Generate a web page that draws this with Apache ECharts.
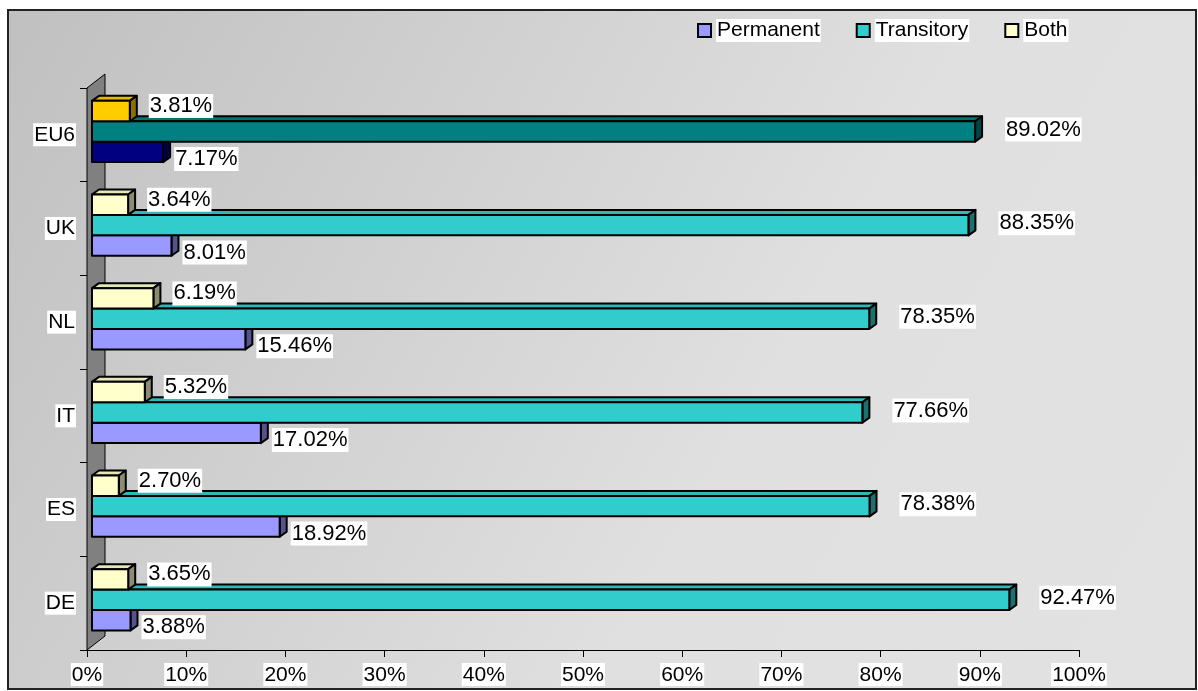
<!DOCTYPE html>
<html>
<head>
<meta charset="utf-8">
<script src="https://cdn.jsdelivr.net/npm/echarts@6/dist/echarts.min.js"></script>
<style>
  html, body { margin: 0; padding: 0; background: #fff; }
  #main { width: 1198px; height: 691px; }
</style>
</head>
<body>
<div id="main"></div>
<script>
// data
var categories = ['DE', 'ES', 'IT', 'NL', 'UK', 'EU6'];
var permanent = [3.88, 18.92, 17.02, 15.46, 8.01, 7.17];
var transitory = [92.47, 78.38, 77.66, 78.35, 88.35, 89.02];
var both = [3.65, 2.70, 5.32, 6.19, 3.64, 3.81];

var FAMILY = '"Liberation Sans", Arial, sans-serif';
var FONT = '22px ' + FAMILY;
var chart = echarts.init(document.getElementById('main'));

function shade(hex, f) {
  var n = parseInt(hex.slice(1), 16);
  var r = Math.round(((n >> 16) & 255) * f);
  var g = Math.round(((n >> 8) & 255) * f);
  var b = Math.round((n & 255) * f);
  return 'rgb(' + r + ',' + g + ',' + b + ')';
}

// 3d-ish bar: slot 0 = top of the group, 2 = bottom
function barRender(slot, color, hiColor, lab) {
  return function (params, api) {
    var v = api.value(0), ci = api.value(1);
    var p0 = api.coord([0, ci]);
    var p1 = api.coord([v, ci]);
    var band = api.size([0, 1])[1];
    var h = band * 0.218, dx = 7, dy = -5;
    var top = p0[1] - band * 0.363 + slot * h;
    var x0 = p0[0] + 5, x1 = p1[0] + 5;
    var c = ci === categories.length - 1 ? hiColor : color;
    var ln = { stroke: '#000', lineWidth: 2, lineJoin: 'round' };
    return {
      type: 'group',
      children: [
        { type: 'polygon', shape: { points: [[x0, top], [x0 + dx, top + dy], [x1 + dx, top + dy], [x1, top]] },
          style: Object.assign({ fill: shade(c, 0.9) }, ln) },
        { type: 'polygon', shape: { points: [[x1, top], [x1 + dx, top + dy], [x1 + dx, top + dy + h], [x1, top + h]] },
          style: Object.assign({ fill: shade(c, 0.55) }, ln) },
        { type: 'rect', shape: { x: x0, y: top, width: x1 - x0, height: h },
          style: Object.assign({ fill: c }, ln) },
        { type: 'text', x: x1 + lab[0], y: top + h / 2 + lab[1],
          style: { text: v.toFixed(2) + '%', fill: '#000', font: FONT, backgroundColor: '#fff',
                   padding: [2, 1, 0, 1], align: 'left', verticalAlign: 'middle' } }
      ]
    };
  };
}

function pairs(arr) {
  return arr.map(function (v, i) { return [v, i]; });
}

var option = {
  animation: false,
  backgroundColor: '#fff',
  graphic: [{
    type: 'rect', z: -10, silent: true,
    shape: { x: 8, y: 10, width: 1188, height: 679 },
    style: {
      fill: new echarts.graphic.LinearGradient(0, 0, 1, 1, [
        { offset: 0, color: '#c0c0c0' },
        { offset: 0.62, color: '#e0e0e0' },
        { offset: 1, color: '#e2e2e2' }
      ]),
      stroke: '#222', lineWidth: 2
    }
  }],
  legend: {
    left: 692, top: 14,
    itemGap: 35, itemWidth: 13, itemHeight: 13,
    icon: 'rect',
    textStyle: { fontSize: 21, fontFamily: FAMILY, color: '#000',
                 backgroundColor: '#fff', padding: [2, 1, 0, 1] },
    data: [
      { name: 'Permanent', itemStyle: { color: '#9999ff', borderColor: '#000', borderWidth: 2 } },
      { name: 'Transitory', itemStyle: { color: '#33cccc', borderColor: '#000', borderWidth: 2 } },
      { name: 'Both', itemStyle: { color: '#ffffcc', borderColor: '#000', borderWidth: 2 } }
    ]
  },
  grid: { left: 87, top: 88, width: 992, height: 562 },
  xAxis: {
    type: 'value', min: 0, max: 100, interval: 10,
    splitLine: { show: false },
    axisLine: { show: true, lineStyle: { color: '#000', width: 1 } },
    axisTick: { show: true, length: 7, lineStyle: { color: '#000' } },
    axisLabel: { formatter: '{value}%', color: '#000', fontSize: 21, fontFamily: FAMILY,
                 margin: 13, backgroundColor: '#fff', padding: [2, 1, 0, 1] }
  },
  yAxis: {
    type: 'category', data: categories,
    axisLine: { show: true, lineStyle: { color: '#000', width: 1 } },
    axisTick: { show: true, length: 7, lineStyle: { color: '#000' } },
    axisLabel: { color: '#000', fontSize: 21, fontFamily: FAMILY,
                 margin: 11, backgroundColor: '#fff', padding: [2, 1, 0, 1] }
  },
  series: [
    {
      // back wall
      type: 'custom', name: 'wall', silent: true,
      data: [[0, 0]],
      renderItem: function (params, api) {
        var cs = params.coordSys;
        var x = cs.x, y = cs.y, h = cs.height;
        return {
          type: 'polygon',
          shape: { points: [[x, y + h], [x, y], [x + 18, y - 14], [x + 18, y + h - 14]] },
          style: { fill: '#808080', stroke: '#000', lineWidth: 1 }
        };
      }
    },
    {
      type: 'custom', name: 'Permanent',
      itemStyle: { color: '#9999ff' },
      encode: { x: 0, y: 1 },
      data: pairs(permanent),
      renderItem: barRender(2, '#9999ff', '#000080', [11, 7])
    },
    {
      type: 'custom', name: 'Transitory',
      itemStyle: { color: '#33cccc' },
      encode: { x: 0, y: 1 },
      data: pairs(transitory),
      renderItem: barRender(1, '#33cccc', '#008080', [30, -2])
    },
    {
      type: 'custom', name: 'Both',
      itemStyle: { color: '#ffffcc' },
      encode: { x: 0, y: 1 },
      data: pairs(both),
      renderItem: barRender(0, '#ffffcc', '#ffcc00', [19, -5])
    }
  ]
};

chart.setOption(option);
</script>
</body>
</html>
